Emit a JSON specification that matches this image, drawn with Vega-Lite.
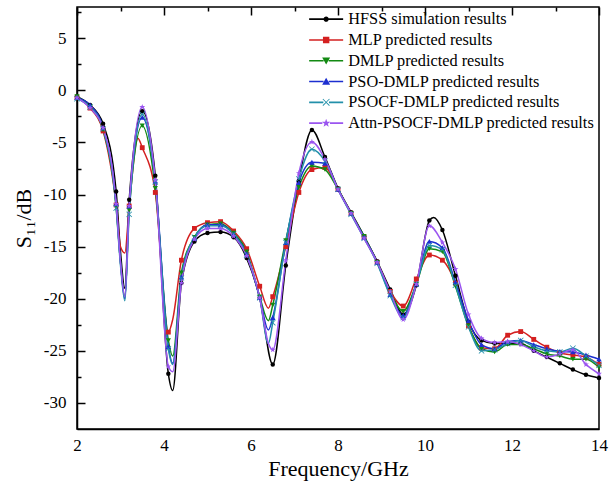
{
  "$schema": "https://vega.github.io/schema/vega-lite/v6.json",
  "width": 522,
  "height": 422,
  "autosize": "none",
  "padding": {"left": 77, "top": 7, "right": 14, "bottom": 52},
  "background": "white",
  "datasets": {
    "names": [
      {"k": "H", "name": "HFSS simulation results"},
      {"k": "M", "name": "MLP predicted results"},
      {"k": "D", "name": "DMLP predicted results"},
      {"k": "P", "name": "PSO-DMLP predicted results"},
      {"k": "C", "name": "PSOCF-DMLP predicted results"},
      {"k": "A", "name": "Attn-PSOCF-DMLP predicted results"}
    ]
  },
  "data": {
    "values": [
      {"f": 2.0, "m": 1, "H": -0.6, "M": -0.7, "D": -0.6, "P": -0.7, "C": -0.8, "A": -0.7},
      {"f": 2.3, "m": 1, "H": -1.4, "M": -1.7, "D": -1.6, "P": -1.4, "C": -1.6, "A": -1.7},
      {"f": 2.6, "m": 1, "H": -3.2, "M": -3.9, "D": -3.8, "P": -3.6, "C": -3.7, "A": -3.6},
      {"f": 2.9, "m": 1, "H": -9.7, "M": -11.0, "D": -11.2, "P": -10.9, "C": -11.3, "A": -10.9},
      {"f": 3.0, "m": 0, "H": -15.5, "M": -15.0, "D": -16.5, "P": -16.5, "C": -16.8, "A": -16.5},
      {"f": 3.1, "m": 0, "H": -19.0, "M": -15.6, "D": -19.8, "P": -20.0, "C": -20.2, "A": -19.8},
      {"f": 3.2, "m": 1, "H": -10.5, "M": -11.1, "D": -11.5, "P": -11.1, "C": -11.9, "A": -11.1},
      {"f": 3.4, "m": 0, "M": -4.6},
      {"f": 3.5, "m": 1, "H": -2.0, "M": -5.5, "D": -3.4, "P": -2.6, "C": -2.3, "A": -1.6},
      {"f": 3.8, "m": 1, "H": -8.2, "M": -9.8, "D": -9.4, "P": -8.7, "C": -8.8, "A": -8.6},
      {"f": 4.1, "m": 1, "H": -27.2, "M": -23.2, "D": -24.0, "P": -24.6, "C": -24.8, "A": -26.5},
      {"f": 4.2, "m": 0, "H": -28.8, "M": -22.0, "D": -25.5, "P": -26.2, "C": -26.3, "A": -27.0},
      {"f": 4.4, "m": 1, "H": -18.5, "M": -16.3, "D": -17.5, "P": -17.9, "C": -18.0, "A": -18.5},
      {"f": 4.7, "m": 1, "H": -14.5, "M": -13.25, "D": -14.1, "P": -14.2, "C": -14.1, "A": -14.3},
      {"f": 5.0, "m": 1, "H": -13.7, "M": -12.7, "D": -12.9, "P": -12.9, "C": -13.0, "A": -13.25},
      {"f": 5.3, "m": 1, "H": -13.6, "M": -12.6, "D": -12.8, "P": -12.9, "C": -13.0, "A": -13.25},
      {"f": 5.6, "m": 1, "H": -14.1, "M": -13.5, "D": -13.7, "P": -13.8, "C": -13.8, "A": -14.0},
      {"f": 5.9, "m": 1, "H": -16.1, "M": -15.2, "D": -15.5, "P": -15.7, "C": -15.8, "A": -15.9},
      {"f": 6.2, "m": 1, "H": -19.9, "M": -18.8, "D": -19.8, "P": -19.9, "C": -19.9, "A": -19.9},
      {"f": 6.4, "m": 0, "M": -20.9, "D": -22.1, "P": -23.0, "C": -24.3, "A": -24.3},
      {"f": 6.5, "m": 1, "H": -26.3, "M": -19.8, "D": -20.6, "P": -21.8, "C": -22.3, "A": -24.9},
      {"f": 6.8, "m": 1, "H": -16.8, "M": -15.0, "D": -14.4, "P": -14.6, "C": -14.6, "A": -16.3},
      {"f": 7.1, "m": 1, "H": -8.7, "M": -9.8, "D": -9.3, "P": -8.85, "C": -8.5, "A": -7.95},
      {"f": 7.4, "m": 1, "H": -3.8, "M": -7.6, "D": -7.25, "P": -6.9, "C": -5.65, "A": -4.95},
      {"f": 7.7, "m": 1, "H": -6.4, "M": -7.4, "D": -7.6, "P": -7.0, "C": -6.8, "A": -6.6},
      {"f": 8.0, "m": 1, "H": -9.4, "M": -9.5, "D": -9.5, "P": -9.5, "C": -9.5, "A": -9.5},
      {"f": 8.3, "m": 1, "H": -11.7, "M": -11.8, "D": -11.8, "P": -11.8, "C": -11.9, "A": -11.8},
      {"f": 8.6, "m": 1, "H": -14.0, "M": -14.1, "D": -14.0, "P": -14.1, "C": -14.2, "A": -14.2},
      {"f": 8.9, "m": 1, "H": -16.4, "M": -16.5, "D": -16.5, "P": -16.5, "C": -16.6, "A": -16.5},
      {"f": 9.2, "m": 1, "H": -19.1, "M": -19.3, "D": -19.4, "P": -19.6, "C": -19.7, "A": -19.3},
      {"f": 9.5, "m": 1, "H": -21.5, "M": -20.7, "D": -21.2, "P": -21.6, "C": -21.8, "A": -22.0},
      {"f": 9.8, "m": 1, "H": -18.7, "M": -18.1, "D": -18.6, "P": -18.6, "C": -18.6, "A": -18.6},
      {"f": 10.1, "m": 1, "H": -12.5, "M": -15.8, "D": -15.2, "P": -14.5, "C": -14.9, "A": -13.0},
      {"f": 10.2, "m": 0, "H": -12.2},
      {"f": 10.4, "m": 1, "H": -13.4, "M": -16.3, "D": -15.5, "P": -15.1, "C": -15.3, "A": -14.6},
      {"f": 10.7, "m": 1, "H": -17.8, "M": -18.5, "D": -18.8, "P": -18.4, "C": -18.7, "A": -17.15},
      {"f": 11.0, "m": 1, "H": -22.2, "M": -22.6, "D": -22.6, "P": -22.1, "C": -22.7, "A": -21.5},
      {"f": 11.3, "m": 1, "H": -24.0, "M": -24.7, "D": -24.8, "P": -24.4, "C": -25.0, "A": -23.8},
      {"f": 11.6, "m": 1, "H": -24.3, "M": -24.8, "D": -25.1, "P": -24.8, "C": -24.9, "A": -24.2},
      {"f": 11.9, "m": 1, "H": -24.3, "M": -23.5, "D": -24.4, "P": -24.1, "C": -24.3, "A": -24.1},
      {"f": 12.2, "m": 1, "H": -24.3, "M": -23.15, "D": -24.4, "P": -24.0, "C": -24.0, "A": -24.4},
      {"f": 12.5, "m": 1, "H": -25.0, "M": -23.9, "D": -24.8, "P": -24.4, "C": -24.6, "A": -25.0},
      {"f": 12.8, "m": 1, "H": -25.6, "M": -24.65, "D": -25.3, "P": -24.8, "C": -25.0, "A": -25.6},
      {"f": 13.1, "m": 1, "H": -26.2, "M": -25.2, "D": -25.5, "P": -25.05, "C": -25.1, "A": -25.3},
      {"f": 13.4, "m": 1, "H": -26.8, "M": -25.4, "D": -25.8, "P": -25.1, "C": -24.75, "A": -24.9},
      {"f": 13.7, "m": 1, "H": -27.3, "M": -25.6, "D": -25.8, "P": -25.4, "C": -25.5, "A": -26.3},
      {"f": 14.0, "m": 1, "H": -27.6, "M": -26.3, "D": -26.6, "P": -25.8, "C": -26.4, "A": -27.2}
    ]
  },
  "transform": [
    {"fold": ["H", "M", "D", "P", "C", "A"], "as": ["k", "v"]},
    {"filter": "isValid(datum.v)"},
    {"lookup": "k", "from": {"data": {"name": "names"}, "key": "k", "fields": ["name"]}}
  ],
  "encoding": {
    "x": {
      "field": "f",
      "type": "quantitative",
      "scale": {"domain": [2, 14], "nice": false, "zero": false},
      "axis": {
        "title": "Frequency/GHz",
        "values": [2, 3, 4, 5, 6, 7, 8, 9, 10, 11, 12, 13, 14],
        "labelExpr": "datum.value % 2 == 0 ? '' + datum.value : ''",
        "ticks": false,
        "grid": true,
        "gridDash": {"condition": {"test": "datum.value % 2 == 0", "value": [8, 2000]}, "value": [4, 2000]},
        "labelPadding": 8,
        "labelBaseline": "top",
        "labelAlign": "center",
        "labelFlush": false,
        "labelOverlap": false,
        "titleY": 46,
        "titleBaseline": "alphabetic"
      }
    },
    "y": {
      "field": "v",
      "type": "quantitative",
      "scale": {"domain": [-32.5, 8], "nice": false, "zero": false},
      "axis": {
        "title": "S₁₁/dB",
        "values": [-30, -27.5, -25, -22.5, -20, -17.5, -15, -12.5, -10, -7.5, -5, -2.5, 0, 2.5, 5, 7.5],
        "labelExpr": "datum.value % 5 == 0 ? '' + datum.value : ''",
        "ticks": false,
        "grid": true,
        "gridDash": {"condition": {"test": "datum.value % 5 == 0", "value": [8, 2000]}, "value": [4, 2000]},
        "labelPadding": 11,
        "labelAlign": "right",
        "labelBaseline": "middle",
        "labelFlush": false,
        "labelOverlap": false,
        "titlePadding": 8
      }
    }
  },
  "layer": [
    {
      "mark": {"type": "line", "interpolate": "monotone", "strokeWidth": 1.5},
      "encoding": {
        "color": {
          "field": "name",
          "type": "nominal",
          "scale": {
            "domain": ["HFSS simulation results", "MLP predicted results", "DMLP predicted results", "PSO-DMLP predicted results", "PSOCF-DMLP predicted results", "Attn-PSOCF-DMLP predicted results"],
            "range": ["#000000", "#d42020", "#138a13", "#1c2fd0", "#2390aa", "#9b55f0"]
          },
          "legend": null
        }
      }
    },
    {
      "transform": [{"filter": "datum.m == 1"}],
      "mark": {"type": "point", "filled": true, "opacity": 1},
      "encoding": {
        "color": {
          "field": "name",
          "type": "nominal",
          "scale": {
            "domain": ["HFSS simulation results", "MLP predicted results", "DMLP predicted results", "PSO-DMLP predicted results", "PSOCF-DMLP predicted results", "Attn-PSOCF-DMLP predicted results"],
            "range": ["#000000", "#d42020", "#138a13", "#1c2fd0", "#2390aa", "#9b55f0"]
          },
          "legend": null
        },
        "shape": {
          "field": "name",
          "type": "nominal",
          "scale": {
            "domain": ["HFSS simulation results", "MLP predicted results", "DMLP predicted results", "PSO-DMLP predicted results", "PSOCF-DMLP predicted results", "Attn-PSOCF-DMLP predicted results"],
            "range": ["circle", "square", "triangle-down", "triangle-up", "M-1,-0.82L-0.82,-1L0,-0.18L0.82,-1L1,-0.82L0.18,0L1,0.82L0.82,1L0,0.18L-0.82,1L-1,0.82L-0.18,0Z", "M0,-1L0.235,-0.324L0.951,-0.309L0.38,0.124L0.588,0.809L0,0.4L-0.588,0.809L-0.38,0.124L-0.951,-0.309L-0.235,-0.324Z"]
          },
          "legend": null
        },
        "size": {
          "field": "name",
          "type": "ordinal",
          "scale": {
            "domain": ["HFSS simulation results", "MLP predicted results", "DMLP predicted results", "PSO-DMLP predicted results", "PSOCF-DMLP predicted results", "Attn-PSOCF-DMLP predicted results"],
            "range": [20, 38, 50, 50, 50, 90]
          },
          "legend": null
        }
      }
    },
    {
      "transform": [{"filter": "datum.m == 1"}],
      "mark": {"type": "point", "filled": true, "size": 0, "opacity": 1},
      "encoding": {
        "color": {
          "field": "name",
          "type": "nominal",
          "scale": {
            "domain": ["HFSS simulation results", "MLP predicted results", "DMLP predicted results", "PSO-DMLP predicted results", "PSOCF-DMLP predicted results", "Attn-PSOCF-DMLP predicted results"],
            "range": ["#000000", "#d42020", "#138a13", "#1c2fd0", "#2390aa", "#9b55f0"]
          },
          "legend": {"title": null}
        },
        "shape": {
          "field": "name",
          "type": "nominal",
          "scale": {
            "domain": ["HFSS simulation results", "MLP predicted results", "DMLP predicted results", "PSO-DMLP predicted results", "PSOCF-DMLP predicted results", "Attn-PSOCF-DMLP predicted results"],
            "range": [
              "M-8.5,-0.4L-1.2,-0.4L-1.2,0.4L-8.5,0.4ZM1.2,-0.4L8.5,-0.4L8.5,0.4L1.2,0.4ZM1.3,0A1.3,1.3 0 1,1 -1.3,0A1.3,1.3 0 1,1 1.3,0Z",
              "M-8.5,-0.4L-1.6,-0.4L-1.6,0.4L-8.5,0.4ZM1.6,-0.4L8.5,-0.4L8.5,0.4L1.6,0.4ZM-1.6,-1.6L1.6,-1.6L1.6,1.6L-1.6,1.6Z",
              "M-8.5,-0.4L-1.3,-0.4L-1.3,0.4L-8.5,0.4ZM1.3,-0.4L8.5,-0.4L8.5,0.4L1.3,0.4ZM-2,-1.6L2,-1.6L0,1.9Z",
              "M-8.5,-0.4L-1.3,-0.4L-1.3,0.4L-8.5,0.4ZM1.3,-0.4L8.5,-0.4L8.5,0.4L1.3,0.4ZM0,-1.9L2,1.6L-2,1.6Z",
              "M-8.5,-0.4L-1.4,-0.4L-1.4,0.4L-8.5,0.4ZM1.4,-0.4L8.5,-0.4L8.5,0.4L1.4,0.4ZM-1.8,-1.5L-1.5,-1.8L0,-0.3L1.5,-1.8L1.8,-1.5L0.3,0L1.8,1.5L1.5,1.8L0,0.3L-1.5,1.8L-1.8,1.5L-0.3,0Z",
              "M-8.5,-0.4L-1.9,-0.4L-1.9,0.4L-8.5,0.4ZM1.9,-0.4L8.5,-0.4L8.5,0.4L1.9,0.4ZM0,-2.2L0.52,-0.71L2.09,-0.68L0.84,0.27L1.29,1.78L0,0.88L-1.29,1.78L-0.84,0.27L-2.09,-0.68L-0.52,-0.71Z"
            ]
          },
          "legend": {"title": null}
        }
      }
    }
  ],
  "resolve": {"scale": {"shape": "independent", "color": "independent", "size": "independent"}},
  "config": {
    "view": {"stroke": "black", "strokeWidth": 1.5},
    "axis": {
      "domainColor": "black",
      "domainWidth": 1.5,
      "gridColor": "black",
      "gridWidth": 1.5,
      "gridOpacity": 1,
      "labelFont": "Liberation Serif",
      "labelFontSize": 17,
      "labelColor": "black",
      "titleFont": "Liberation Serif",
      "titleFontSize": 22,
      "titleFontWeight": "normal",
      "titleColor": "black"
    },
    "legend": {
      "orient": "top-right",
      "offset": 4,
      "padding": 0,
      "labelFont": "Liberation Serif",
      "labelFontSize": 16.3,
      "labelFontWeight": "normal",
      "labelColor": "black",
      "labelLimit": 0,
      "symbolSize": 16,
      "symbolStrokeWidth": 0,
      "symbolOffset": 17,
      "labelOffset": 14,
      "rowPadding": 3.8
    }
  }
}
